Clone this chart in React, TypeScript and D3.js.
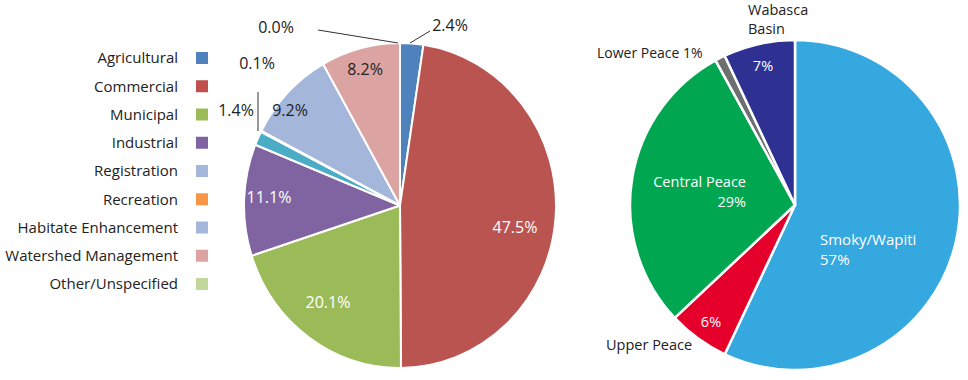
import React from "react";
import * as d3 from "d3";

const useCategories = ["Agricultural", "Commercial", "Municipal", "Industrial", "Registration", "Recreation", "Habitate Enhancement", "Watershed Management", "Other/Unspecified"];
const useValues = [2.4, 47.5, 20.1, 11.1, 1.4, 0.1, 9.2, 8.2, 0.0];
const useSliceColors = ["#4F81BD", "#B95450", "#9BBB59", "#8064A2", "#4BACC6", "#F79646", "#A4B7DB", "#DBA4A3", "#C3D69B"];
const useLegendColors = ["#4F81BD", "#C0504D", "#9BBB59", "#8064A2", "#A4B7DB", "#F79646", "#A4B7DB", "#DBA4A3", "#C3D69B"];
const useLabels = ["2.4%", "47.5%", "20.1%", "11.1%", "1.4%", "0.1%", "9.2%", "8.2%", "0.0%"];

const basinCategories = ["Smoky/Wapiti", "Upper Peace", "Central Peace", "Lower Peace", "Wabasca Basin"];
const basinValues = [57, 6, 29, 1, 7];
const basinColors = ["#35A8E0", "#E4002B", "#00A650", "#6D6E70", "#2E3192"];

const FONT = "'Open Sans', 'DejaVu Sans', sans-serif";

export default function App() {
  const pie = d3.pie<number>().sort(null).value((d) => d);
  const leftArcs = pie(useValues);
  const rightArcs = pie(basinValues);

  const lcx = 400, lcy = 205.5, lr = 156, lsy = 162.5 / 156;
  const arcL = d3.arc<d3.PieArcDatum<number>>().innerRadius(0).outerRadius(lr);
  const rcx = 795, rcy = 205, rr = 165;
  const arcR = d3.arc<d3.PieArcDatum<number>>().innerRadius(0).outerRadius(rr);

  const legendY = d3.scalePoint<string>().domain(useCategories).range([58, 284]);

  const leftLabelPos: Record<number, [number, number, string]> = {
    0: [450, 25, "#222"],
    1: [515, 227, "#fff"],
    2: [328, 302, "#fff"],
    3: [269, 197, "#fff"],
    4: [236, 110, "#222"],
    5: [257, 63, "#222"],
    6: [290, 110, "#222"],
    7: [365, 69, "#222"],
    8: [276, 27, "#222"],
  };

  return (
    <svg width={968} height={380} style={{ position: "absolute", left: 0, top: 0, background: "#fff" }}>
      {useCategories.map((c, i) => (
        <g key={c}>
          <text x={178} y={legendY(c)!} dy="0.35em" textAnchor="end" fontFamily={FONT} fontSize={15} fill="#222">{c}</text>
          <rect x={196} y={legendY(c)! - 6} width={12} height={12} fill={useLegendColors[i]} />
        </g>
      ))}

      <g transform={`translate(${lcx},${lcy}) scale(1,${lsy})`}>
        {leftArcs.map((a, i) => (
          <path key={i} d={arcL(a)!} fill={useSliceColors[i]} stroke="#fff" strokeWidth={2} strokeLinejoin="round" />
        ))}
      </g>
      <line x1={318} y1={30} x2={398} y2={43} stroke="#333" strokeWidth={1} />
      <line x1={410} y1={43} x2={430} y2={31} stroke="#333" strokeWidth={1} />
      <line x1={258} y1={92} x2={258} y2={131} stroke="#333" strokeWidth={1} />
      {leftArcs.map((a, i) => {
        const [x, y, fill] = leftLabelPos[i];
        return (
          <text key={i} x={x} y={y} dy="0.35em" textAnchor="middle" fontFamily={FONT} fontSize={16} fill={fill}>{useLabels[i]}</text>
        );
      })}

      <g transform={`translate(${rcx},${rcy})`}>
        {rightArcs.map((a, i) => (
          <path key={i} d={arcR(a)!} fill={basinColors[i]} stroke="#fff" strokeWidth={2.5} strokeLinejoin="round" />
        ))}
      </g>
      <g fontFamily={FONT} fontSize={14.5}>
        <text x={748} y={10} dy="0.35em" fill="#222">Wabasca</text>
        <text x={748} y={29} dy="0.35em" fill="#222">Basin</text>
        <text x={763} y={66} dy="0.35em" textAnchor="middle" fill="#fff">{basinValues[4]}%</text>
        <text x={597} y={53} dy="0.35em" fill="#222" fontSize={14}>{basinCategories[3]} {basinValues[3]}%</text>
        <text x={746} y={182} dy="0.35em" textAnchor="end" fill="#fff">{basinCategories[2]}</text>
        <text x={746} y={202} dy="0.35em" textAnchor="end" fill="#fff">{basinValues[2]}%</text>
        <text x={820} y={240} dy="0.35em" fill="#fff" fontSize={15}>{basinCategories[0]}</text>
        <text x={820} y={260} dy="0.35em" fill="#fff" fontSize={15}>{basinValues[0]}%</text>
        <text x={711} y={322} dy="0.35em" textAnchor="middle" fill="#fff">{basinValues[1]}%</text>
        <text x={606} y={345} dy="0.35em" fill="#222">{basinCategories[1]}</text>
      </g>
    </svg>
  );
}
